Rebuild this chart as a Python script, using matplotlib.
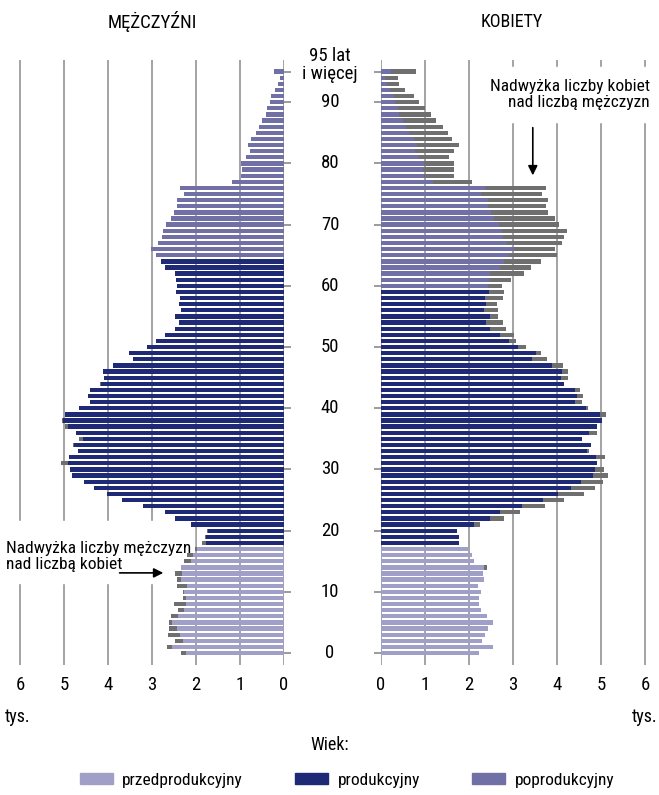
import matplotlib
matplotlib.use('Agg')
import matplotlib.pyplot as plt
import matplotlib.transforms as mtransforms
from matplotlib import font_manager
from matplotlib.patches import Patch, Rectangle
import numpy as np

# pick a narrow font if one is installed
installed = {(f.name, f.stretch) for f in font_manager.fontManager.ttflist}
names = {n for n, s in installed}
font_list = []
for cand in ['Liberation Sans Narrow', 'DejaVu Sans Condensed', 'Roboto Condensed',
             'Open Sans Condensed', 'Noto Sans Condensed']:
    if cand in names:
        font_list.append(cand)
cond = [n for n, s in installed if s in ('condensed', 'semi-condensed', 'extra-condensed', 'ultra-condensed', 75, 62.5, 87.5)]
if not font_list and cond:
    font_list.append(sorted(cond)[0])
font_list += ['Roboto', 'DejaVu Sans']
plt.rcParams['font.family'] = font_list
plt.rcParams['font.size'] = 12

# ages 0..95 (95 = "95 lat i więcej"), values in thousands
ages = list(range(0, 96))

male = [2.34, 2.66, 2.47, 2.64, 2.61, 2.61, 2.57, 2.41, 2.49, 2.29,
        2.30, 2.43, 2.43, 2.47, 2.34, 2.27, 2.20, 2.02, 1.86, 1.80,
        1.75, 2.11, 2.47, 2.70, 3.20, 3.68, 4.02, 4.32, 4.55, 4.82,
        4.87, 5.07, 4.89, 4.68, 4.80, 4.66, 4.73, 4.98, 5.05, 4.98,
        4.66, 4.41, 4.45, 4.41, 4.18, 4.09, 4.11, 3.89, 3.43, 3.52,
        3.11, 2.91, 2.70, 2.47, 2.38, 2.47, 2.33, 2.38, 2.36, 2.45,
        2.43, 2.45, 2.47, 2.70, 2.79, 2.91, 3.02, 2.86, 2.77, 2.75,
        2.68, 2.57, 2.50, 2.43, 2.43, 2.27, 2.36, 1.18, 0.97, 0.95,
        0.97, 0.86, 0.77, 0.81, 0.74, 0.63, 0.56, 0.49, 0.40, 0.38,
        0.31, 0.29, 0.20, 0.13, 0.08, 0.22]

female = [2.23, 2.55, 2.30, 2.36, 2.43, 2.55, 2.41, 2.27, 2.23, 2.23,
          2.27, 2.20, 2.34, 2.32, 2.41, 2.11, 2.07, 1.98, 1.77, 1.77,
          1.73, 2.24, 2.79, 3.17, 3.72, 4.17, 4.61, 4.86, 5.04, 5.17,
          5.06, 4.92, 5.08, 4.72, 4.77, 4.56, 4.92, 4.90, 5.02, 5.11,
          4.70, 4.56, 4.58, 4.52, 4.17, 4.24, 4.24, 4.13, 3.77, 3.63,
          3.29, 3.06, 3.02, 2.83, 2.77, 2.67, 2.67, 2.63, 2.77, 2.79,
          2.74, 2.95, 3.24, 3.40, 3.63, 3.99, 3.95, 4.11, 4.17, 4.22,
          4.04, 3.95, 3.79, 3.74, 3.79, 3.65, 3.74, 2.06, 1.67, 1.67,
          1.65, 1.54, 1.65, 1.77, 1.61, 1.52, 1.42, 1.24, 1.13, 1.00,
          0.86, 0.74, 0.54, 0.40, 0.38, 0.79]

# working age: 18-64 men, 18-59 women
work_start = 18
male_retire = 65
female_retire = 60

age_ticks = [0, 10, 20, 30, 40, 50, 60, 70, 80, 90, 95]
age_labels = ['0', '10', '20', '30', '40', '50', '60', '70', '80', '90', '95 lat\ni więcej']
x_ticks = [0, 1, 2, 3, 4, 5, 6]

group_names = ['przedprodukcyjny', 'produkcyjny', 'poprodukcyjny']
group_colors = ['#a09fc8', '#1f2a76', '#7170a6']
excess_color = '#6f6f6f'
grid_color = '#8a8a8a'


def group_color(age, retire):
    if age < work_start:
        return group_colors[0]
    elif age < retire:
        return group_colors[1]
    return group_colors[2]


W, H = 659, 795
fig = plt.figure(figsize=(W / 100, H / 100), dpi=100)

ax_bottom = (H - 665) / H
ax_height = 605 / H
ax_w = 266.2 / W
ax_m = fig.add_axes([17.8 / W, ax_bottom, ax_w, ax_height])
ax_f = fig.add_axes([381 / W, ax_bottom, ax_w, ax_height])

m = np.array(male)
f = np.array(female)
base = np.minimum(m, f)

for ax, vals, retire in [(ax_m, m, male_retire), (ax_f, f, female_retire)]:
    cols = [group_color(a, retire) for a in ages]
    ax.barh(ages, base, height=0.7, color=cols, zorder=2)
    ax.barh(ages, vals - base, left=base, height=0.7, color=excess_color, zorder=2)
    for xv in x_ticks:
        ax.axvline(xv, color=grid_color, lw=1.1, zorder=0)
    ax.set_ylim(-1.95, 96.9)
    ax.set_xticks(x_ticks)
    ax.set_yticks(age_ticks)
    ax.set_yticklabels([])
    ax.tick_params(axis='x', length=0, pad=8, labelsize=13.5)
    ax.tick_params(axis='y', length=5, width=1.2, color=grid_color)
    for s in ax.spines.values():
        s.set_visible(False)

ax_m.set_xlim(6.05, 0)
ax_m.yaxis.tick_right()
ax_f.set_xlim(0, 6.05)
ax_f.yaxis.tick_left()

# white gaps in the grid behind the notes
ax_m.add_patch(Rectangle((2.05, 11.5), 4.2, 10.0, color='white', zorder=1, clip_on=False))
ax_f.add_patch(Rectangle((2.9, 86.8), 3.3, 9.0, color='white', zorder=1, clip_on=False))

ax_m.text(6.32, 15.8, 'Nadwyżka liczby mężczyzn\nnad liczbą kobiet', ha='left', va='center',
          fontsize=12.5, linespacing=1.1, zorder=5, clip_on=False)
ax_m.annotate('', xy=(2.68, 13.1), xytext=(3.8, 13.1),
              arrowprops=dict(arrowstyle='-|>', color='black', lw=1.2, mutation_scale=14), zorder=6)

ax_f.text(6.11, 91.2, 'Nadwyżka liczby kobiet\nnad liczbą mężczyzn', ha='right', va='center',
          fontsize=12.5, linespacing=1.1, zorder=5, clip_on=False)
ax_f.annotate('', xy=(3.45, 77.6), xytext=(3.45, 86.3),
              arrowprops=dict(arrowstyle='-|>', color='black', lw=1.2, mutation_scale=14), zorder=6)

# age labels in the middle
trans = mtransforms.blended_transform_factory(fig.transFigure, ax_m.transData)
for a, lab in zip(age_ticks, age_labels):
    y = a + 1.1 if a == 95 else a
    fig.text(330 / W, y, lab, transform=trans, ha='center', va='center', fontsize=13.5, linespacing=1.0)

fig.text(152 / W, 1 - 22 / H, 'MĘŻCZYŹNI', ha='center', va='center', fontsize=13.5)
fig.text(512 / W, 1 - 22 / H, 'KOBIETY', ha='center', va='center', fontsize=13)
fig.text(18 / W, 1 - 717 / H, 'tys.', ha='center', va='center', fontsize=13)
fig.text(645 / W, 1 - 717 / H, 'tys.', ha='center', va='center', fontsize=13)
fig.text(330 / W, 1 - 745 / H, 'Wiek:', ha='center', va='center', fontsize=13)

handles = [Patch(color=c, label=n) for c, n in zip(group_colors, group_names)]
fig.legend(handles=handles, loc='center', bbox_to_anchor=(347 / W, 1 - 780 / H), ncol=3,
           frameon=False, fontsize=12.5, handlelength=1.9, handleheight=0.6,
           columnspacing=3.0, handletextpad=0.55)

fig.savefig('out.png', dpi=100)
